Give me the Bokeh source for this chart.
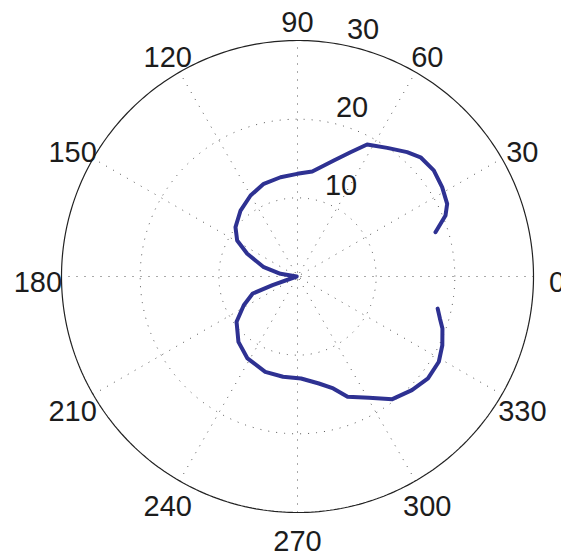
import numpy as np
from bokeh.plotting import figure
from bokeh.models import Range1d
from bokeh.core.properties import value
from bokeh.embed import file_html
from bokeh.resources import INLINE

# Measured response: angle (degrees) and radius
theta_deg = [17.8, 22.4, 25.9, 31.7, 37.9, 44.1, 48.6, 55.1, 62.2, 66.9, 72.6,
             82.0, 90.2, 99.7, 110.0, 120.1, 130.8, 141.5, 149.2, 155.7, 164.6,
             171.0, 180.0, 199.2, 200.8, 208.1, 216.6, 227.9, 238.6, 251.3,
             261.8, 272.0, 281.3, 287.7, 292.6, 300.5, 307.7, 315.2, 322.0,
             328.9, 334.6, 340.3, 343.6, 347.1]
radius = [18.42, 20.35, 21.15, 21.61, 21.95, 21.78, 21.07, 19.94, 18.97, 17.17,
          15.45, 13.48, 13.05, 12.80, 12.54, 11.90, 11.08, 10.07, 8.93, 7.01,
          4.44, 2.19, 0.10, 3.36, 6.09, 7.74, 9.65, 11.20, 12.20, 12.79, 12.88,
          12.97, 13.87, 14.94, 16.56, 17.90, 19.71, 20.50, 21.05, 20.98, 20.38,
          19.57, 18.87, 18.28]

# Polar grid settings
r_ticks = [10, 20, 30]
r_max = 30
angle_ticks = list(range(0, 360, 30))

FONT = value("Liberation Sans")
TEXT_COLOR = "#1c1c1c"
GRID_COLOR = "#555555"

# pixel scale: outer ring radius of 236 px, centre at (297, 276)
px_per_unit = 236 / r_max
W, H = 561, 558
cx, cy = 297, 276

p = figure(width=W, height=H, output_backend="svg", toolbar_location=None,
           x_range=Range1d(-cx / px_per_unit, (W - cx) / px_per_unit),
           y_range=Range1d(-(H - cy) / px_per_unit, cy / px_per_unit),
           min_border=0, background_fill_color="white",
           border_fill_color="white")
p.axis.visible = False
p.grid.visible = False
p.outline_line_color = None

t = np.linspace(0, 2 * np.pi, 400)

# dotted spokes through the centre
for a in angle_ticks[:6]:
    ar = np.deg2rad(a + 30)
    p.line([-r_max * np.cos(ar), r_max * np.cos(ar)],
           [-r_max * np.sin(ar), r_max * np.sin(ar)],
           line_color=GRID_COLOR, line_width=1, line_dash="1 7")

# dotted inner rings, solid outer ring
for r in r_ticks[:-1]:
    p.line(r * np.cos(t), r * np.sin(t), line_color=GRID_COLOR,
           line_width=1, line_dash="1 7")
p.line(r_max * np.cos(t), r_max * np.sin(t), line_color="#222222",
       line_width=1.2)

# radial tick labels along the 82 degree direction
c82, s82 = np.cos(np.deg2rad(82)), np.sin(np.deg2rad(82))
p.text(x=[(r + 0.5) * c82 for r in r_ticks],
       y=[(r + 0.5) * s82 for r in r_ticks],
       text=[str(r) for r in r_ticks], text_font=FONT,
       text_font_size="29px", text_color=TEXT_COLOR, text_align="left",
       text_baseline="bottom", x_offset=16)

# angle labels just outside the outer ring
lab_r = 1.1 * r_max
p.text(x=[lab_r * np.cos(np.deg2rad(a)) for a in angle_ticks],
       y=[lab_r * np.sin(np.deg2rad(a)) for a in angle_ticks],
       text=[str(a) for a in angle_ticks], text_font=FONT,
       text_font_size="29px", text_color=TEXT_COLOR, text_align="center",
       text_baseline="middle", y_offset=5)

# the response curve
th = np.deg2rad(theta_deg)
rr = np.array(radius)
p.line(rr * np.cos(th), rr * np.sin(th), line_color="#2e3192",
       line_width=4, line_join="round", line_cap="round")

open("out.html", "w").write(file_html(p, INLINE))
